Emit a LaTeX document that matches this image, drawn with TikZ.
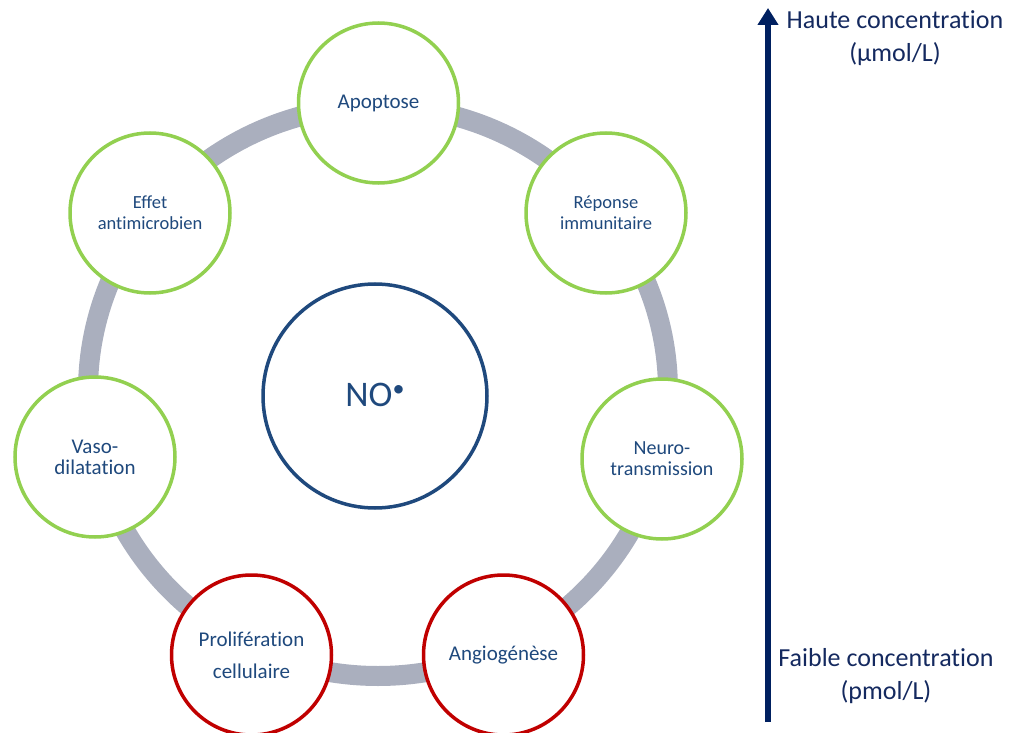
\documentclass[tikz,border=0pt]{standalone}
\usepackage{fontspec}
\setmainfont{Carlito}[Ligatures={NoCommon,NoContextual}]
\usetikzlibrary{arrows.meta}
\definecolor{ringgray}{HTML}{AAAFBE}
\definecolor{lgreen}{HTML}{92D050}
\definecolor{dred}{HTML}{C00000}
\definecolor{txtblue}{HTML}{1F497D}
\definecolor{navy}{HTML}{002060}
\definecolor{labnavy}{HTML}{14295F}
\tikzset{
  bubble/.style={circle, fill=white, line width=3.5pt, minimum size=160pt, inner sep=0pt,
    align=center, text=txtblue, font=\fontsize{21}{21}\selectfont},
  greenb/.style={bubble, draw=lgreen},
  redb/.style={bubble, draw=dred},
  smalltxt/.style={font=\fontsize{18.5}{21}\selectfont},
  lab/.style={text=labnavy, align=center, font=\fontsize{26}{33}\selectfont, inner sep=0pt}
}
\begin{document}
\begin{tikzpicture}[x=1pt,y=-1pt]
\useasboundingbox (0,0) rectangle (1013,733);
\draw[ringgray, line width=20pt] (378,391) ellipse [x radius=290, y radius=285];
\node[greenb] (apo) at (378.5,103) {Apoptose};
\node[greenb, smalltxt] (eff) at (150,213) {Effet\\antimicrobien};
\node[greenb, smalltxt] (rep) at (606,213) {Réponse\\immunitaire};
\node[greenb, font=\fontsize{21}{21}\selectfont] (vaso) at (95,457) {Vaso-\\dilatation};
\node[greenb, font=\fontsize{20}{21}\selectfont] (neuro) at (662,459) {Neuro-\\transmission};
\node[redb, font=\fontsize{21}{32}\selectfont] (prolif) at (251.5,655) {Prolifération\\cellulaire};
\node[redb] (angio) at (503.5,655) {Angiogénèse};
\node[bubble, draw=txtblue, minimum size=224pt, font=\fontsize{36}{36}\selectfont] (no) at (375,396) {\raisebox{3pt}{NO\raisebox{10pt}{\fontsize{24}{24}\selectfont •}}};
\coordinate (abot) at (768,722);
\coordinate (atop) at (768,8);
\draw[navy, line width=6pt, -{Triangle[width=20pt,length=17pt]}] (abot) -- (atop);
\node[lab] (haute) at (895,38) {Haute concentration\\(µmol/L)};
\node[lab] (faible) at (886,676) {Faible concentration\\(pmol/L)};
\end{tikzpicture}
\end{document}
